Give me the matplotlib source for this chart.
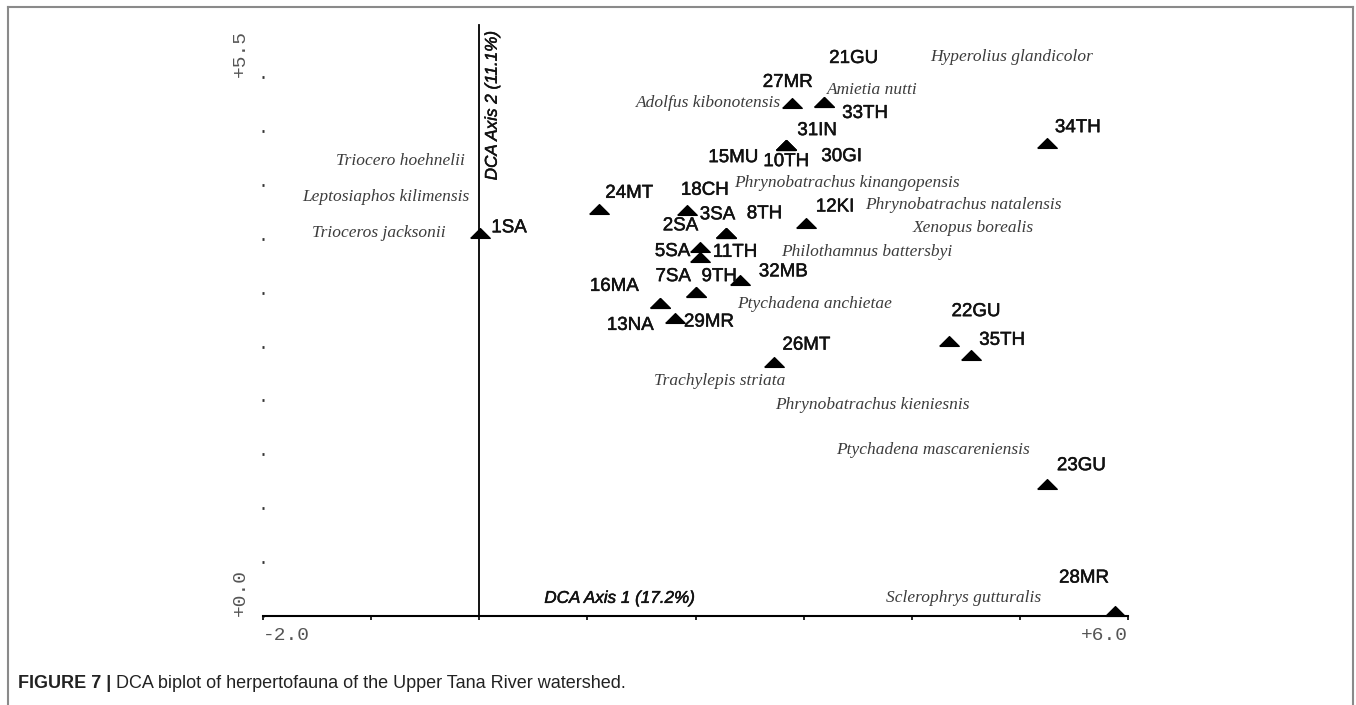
import matplotlib.pyplot as plt
from matplotlib.lines import Line2D
import matplotlib.patheffects as pe
import numpy as np

# site scores (DCA axis 1, axis 2)
site_names = ['1SA', '2SA', '3SA', '5SA', '7SA', '8TH', '9TH', '10TH', '11TH', '12KI',
              '13NA', '15MU', '16MA', '18CH', '21GU', '22GU', '23GU', '24MT', '26MT',
              '27MR', '28MR', '29MR', '30GI', '31IN', '32MB', '33TH', '34TH', '35TH']
site_x = [0.01, 2.28, 2.28, 2.04, 2.00, 2.28, 2.00, 2.84, 2.04, 3.02,
          1.67, 2.84, 1.67, 1.92, 3.19, 4.34, 5.25, 1.11, 2.73,
          2.89, 5.88, 1.81, 2.84, 2.84, 2.41, 3.19, 5.25, 4.55]
site_y = [3.91, 3.91, 3.91, 3.77, 3.31, 3.91, 3.31, 4.81, 3.66, 4.01,
          3.19, 4.81, 3.19, 4.14, 5.24, 2.81, 1.35, 4.15, 2.59,
          5.23, 0.05, 3.04, 4.81, 4.81, 3.43, 5.24, 4.83, 2.66]

# species scores
species_names = ['Hyperolius glandicolor', 'Amietia nutti', 'Adolfus kibonotensis',
                 'Triocero hoehnelii', 'Leptosiaphos kilimensis', 'Trioceros jacksonii',
                 'Phrynobatrachus kinangopensis', 'Phrynobatrachus natalensis',
                 'Xenopus borealis', 'Philothamnus battersbyi', 'Ptychadena anchietae',
                 'Trachylepis striata', 'Phrynobatrachus kieniesnis',
                 'Ptychadena mascareniensis', 'Sclerophrys gutturalis']
species_x = [4.92, 3.64, 2.12, -0.73, -0.86, -0.93, 3.40, 4.48, 4.57, 3.58, 3.10,
             2.22, 3.64, 4.20, 4.48]
species_y = [5.70, 5.37, 5.23, 4.64, 4.28, 3.91, 4.42, 4.19, 3.96, 3.71, 3.18,
             2.40, 2.15, 1.69, 0.18]

# label placement (pixels from the triangle)
label_offset = {
    '1SA': (11, 5), '2SA': (-63, 7), '3SA': (-26, 18), '5SA': (-45, -5),
    '7SA': (-40, 15), '8TH': (21, 19), '9TH': (6, 15), '10TH': (-23, -17),
    '11TH': (13, 5), '12KI': (10, 16), '13NA': (-53, -22), '15MU': (-78, -13),
    '16MA': (-70, 17), '18CH': (-6, 20), '21GU': (5, 44), '22GU': (3, 29),
    '23GU': (10, 18), '24MT': (6, 16), '26MT': (8, 17), '27MR': (-29, 21),
    '28MR': (-56, 33), '29MR': (9, -4), '30GI': (35, -12), '31IN': (11, 14),
    '32MB': (19, 8), '33TH': (18, -11), '34TH': (8, 15), '35TH': (8, 15),
}

fig = plt.figure(figsize=(13.56, 7.05), dpi=100)
ax = fig.add_axes([263 / 1356, 1 - 616 / 705, 865 / 1356, 539 / 705])
ax.set_xlim(-2, 6)
ax.set_ylim(0, 5.5)

for s in ['top', 'right', 'left']:
    ax.spines[s].set_visible(False)
ax.spines['bottom'].set_linewidth(1.5)

# axis 2 line through x = 0
ax.axvline(0, ymin=0, ymax=6.03 / 5.5, color='black', lw=1.3, clip_on=False)

# ticks
mono = 'Liberation Mono'
xt = np.arange(-2, 7, 1)
ax.set_xticks(xt)
ax.set_xticklabels(['-2.0'] + [''] * 7 + ['+6.0'], fontfamily=mono, fontsize=14, color='#555555')
ax.tick_params(axis='x', length=3, width=1.2, direction='out', pad=5)
xl = ax.get_xticklabels()
xl[0].set_ha('left')
xl[-1].set_ha('right')

yt = np.linspace(0, 5.5, 11)
ax.set_yticks(yt)
ax.set_yticklabels(['+0.0'] + [''] * 9 + ['+5.5'], fontfamily=mono, fontsize=14, color='#555555')
ax.tick_params(axis='y', length=2, width=2, direction='inout', pad=9, labelrotation=90, color='#333333')
for lbl in ax.get_yticklabels():
    lbl.set_va('bottom')

heavy = [pe.withStroke(linewidth=0.35, foreground='#111111')]

# sites
tri = [(-1, -0.5), (1, -0.5), (0, 0.5), (-1, -0.5)]
ax.plot(site_x, site_y, linestyle='none', marker=tri, markersize=14,
        color='black', clip_on=False, zorder=3)
for name, x, y in zip(site_names, site_x, site_y):
    ax.annotate(name, (x, y), xytext=label_offset[name], textcoords='offset pixels',
                ha='left', va='center', fontsize=13.5, fontfamily='Liberation Sans',
                color='#111111', annotation_clip=False, zorder=4, path_effects=heavy)

# species
for name, x, y in zip(species_names, species_x, species_y):
    ax.text(x, y, name, ha='center', va='center', fontsize=12.5,
            fontfamily='Liberation Serif', style='italic', color='#3c3c3c', clip_on=False)

# axis titles inside the plot
ax.text(1.30, 0.18, 'DCA Axis 1 (17.2%)', ha='center', va='center', fontsize=12.3,
        fontfamily='Liberation Sans', style='italic', color='#111111', path_effects=heavy)
ax.text(0.12, 5.21, 'DCA Axis 2 (11.1%)', ha='center', va='center', rotation=90,
        fontsize=12.3, fontfamily='Liberation Sans', style='italic', color='#111111',
        clip_on=False, path_effects=heavy)

# outer frame (open at the bottom)
fx0, fx1, fy1 = 8 / 1356, 1353 / 1356, 1 - 7 / 705
frame_kw = dict(color='#8a8a8a', lw=1.5, transform=fig.transFigure)
fig.add_artist(Line2D([fx0, fx0], [0, fy1], **frame_kw))
fig.add_artist(Line2D([fx1, fx1], [0, fy1], **frame_kw))
fig.add_artist(Line2D([fx0, fx1], [fy1, fy1], **frame_kw))

# caption
cy = 1 - 683 / 705
t1 = fig.text(18 / 1356, cy, 'FIGURE 7 |', fontsize=13, fontweight='bold',
              fontfamily='Liberation Sans', va='center', color='#222222')
fig.canvas.draw()
bb = t1.get_window_extent()
fig.text((bb.x1 + 5) / 1356, cy, 'DCA biplot of herpertofauna of the Upper Tana River watershed.',
         fontsize=13, fontfamily='Liberation Sans', va='center', color='#222222')

fig.savefig('out.png', dpi=100)
